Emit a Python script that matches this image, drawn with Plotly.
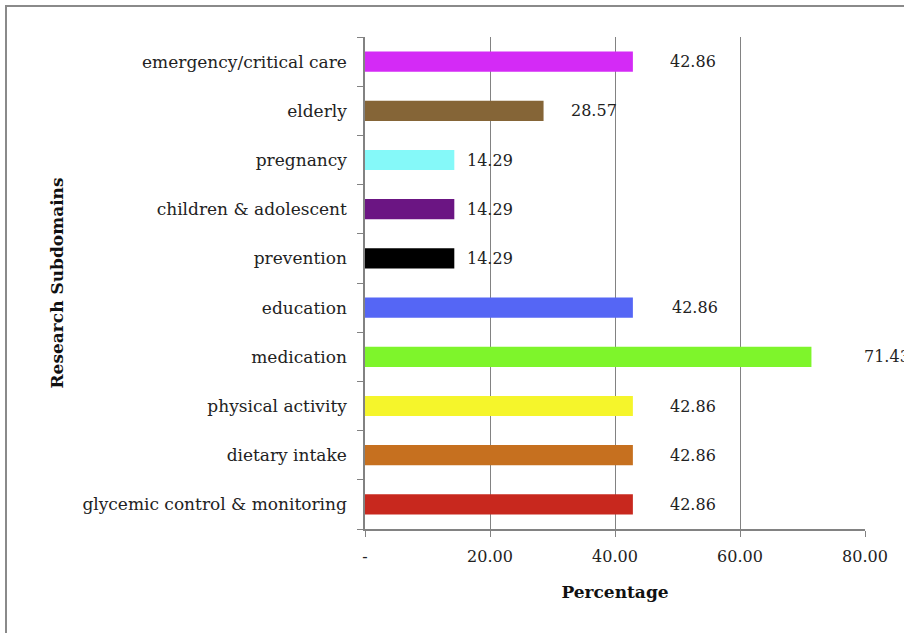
import plotly.graph_objects as go

categories = ["glycemic control & monitoring", "dietary intake", "physical activity",
              "medication", "education", "prevention", "children & adolescent",
              "pregnancy", "elderly", "emergency/critical care"]
values = [42.86, 42.86, 42.86, 71.43, 42.86, 14.29, 14.29, 14.29, 28.57, 42.86]
bar_colors = ["#C8281E", "#C6701F", "#F5F52B", "#7EF52B", "#5566F5",
              "#000000", "#6B1583", "#85F9F9", "#856537", "#D42AF6"]
label_gaps = [35, 35, 35, 51, 37, 11, 11, 11, 25, 35]
x_tickvals = [0, 20, 40, 60, 80]
x_ticktext = ["-", "20.00", "40.00", "60.00", "80.00"]

FONT = "DejaVu Serif"

fig = go.Figure(go.Bar(
    x=values, y=categories, orientation="h",
    marker=dict(color=bar_colors, line=dict(width=0)),
    width=0.41, hoverinfo="skip",
))

for c, v, g in zip(categories, values, label_gaps):
    fig.add_annotation(x=v, y=c, xref="x", yref="y", text=f"{v:.2f}",
                       showarrow=False, xanchor="left", xshift=g,
                       font=dict(family=FONT, size=16, color="#222222"))

fig.add_shape(type="rect", xref="paper", yref="paper",
              x0=-0.718, x1=1.2, y0=-0.4, y1=1.063,
              line=dict(color="#8a8a8a", width=2), layer="below")

fig.update_layout(
    width=904, height=633,
    margin=dict(l=365, r=39, t=37, b=104),
    paper_bgcolor="white", plot_bgcolor="white",
    showlegend=False,
    font=dict(family=FONT, size=17, color="#222222"),
    xaxis=dict(
        range=[0, 80], tickvals=x_tickvals, ticktext=x_ticktext,
        showgrid=True, gridcolor="#828282", gridwidth=1.2,
        showline=True, linecolor="#828282", linewidth=1.5,
        ticks="outside", ticklen=6, tickcolor="#828282",
        ticklabelstandoff=6, zeroline=False,
        tickfont=dict(size=16),
        title=dict(text="<b>Percentage</b>", standoff=21,
                   font=dict(family=FONT, size=17, color="#111111")),
    ),
    yaxis=dict(
        type="category", categoryorder="array", categoryarray=categories,
        showgrid=False, showline=True, linecolor="#828282", linewidth=1.5,
        ticks="outside", ticklen=6, tickcolor="#828282", tickson="boundaries",
        ticklabelstandoff=13,
        title=dict(text="<b>Research Subdomains</b>", standoff=14,
                   font=dict(family=FONT, size=17, color="#111111")),
    ),
)

fig.write_html("out.html")
